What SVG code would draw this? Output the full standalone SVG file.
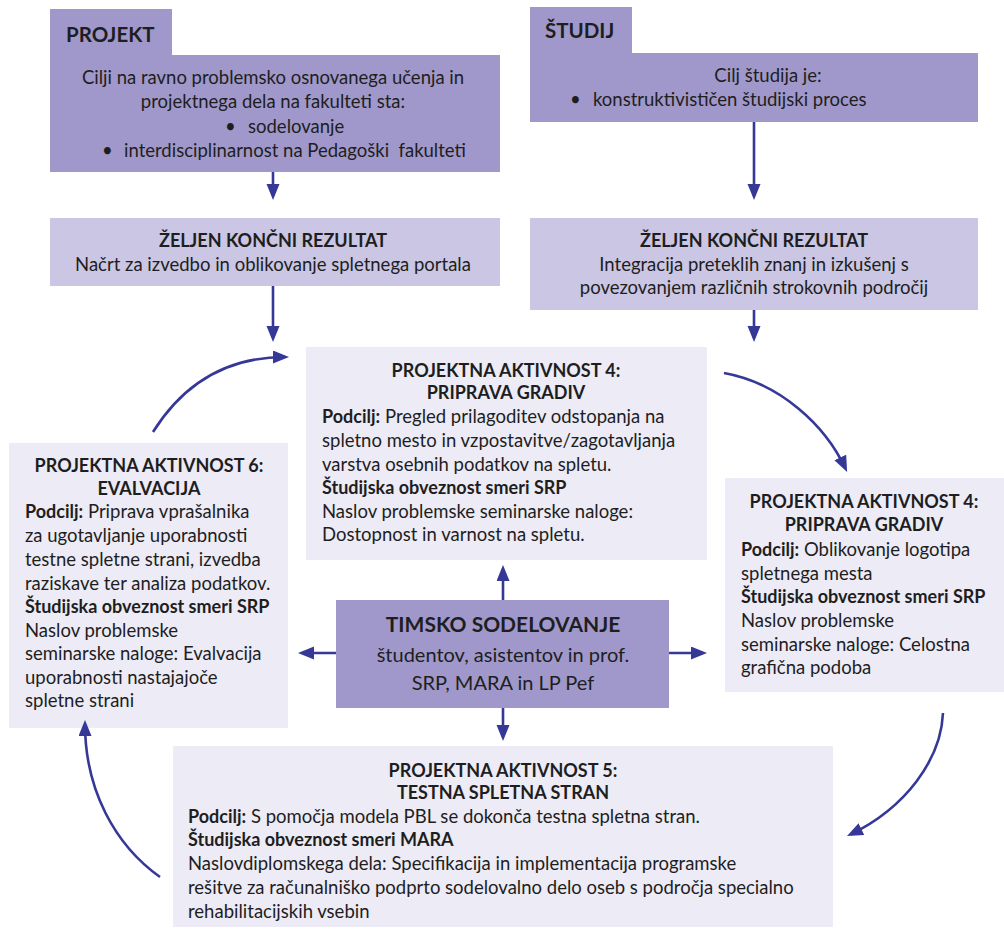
<svg xmlns="http://www.w3.org/2000/svg" width="1004" height="929" viewBox="0 0 1004 929">
<defs>
<style>
text{font-family:Lato,"Open Sans","Liberation Sans",sans-serif;fill:#1e1e1e;font-size:18.5px;white-space:pre}
.c{text-anchor:middle}
.b{font-weight:bold;font-size:18px}
.h{font-size:20.5px;font-weight:bold}
.t{font-size:21px;font-weight:bold}
.big{font-size:20px}
.dark{fill:#a098ca}
.mid{fill:#cac6e3}
.light{fill:#ecebf6}
.ln{fill:none;stroke:#363897;stroke-width:2.6;marker-end:url(#ah)}
</style>
<marker id="ah" markerUnits="userSpaceOnUse" markerWidth="18" markerHeight="14" refX="12" refY="6.5" orient="auto">
<path d="M0,0 L16,6.5 L0,13 z" fill="#363897"/>
</marker>
</defs>
<rect width="1004" height="929" fill="#ffffff"/>

<g id="projekt">
<rect class="dark" x="50" y="9" width="122" height="47"/>
<rect class="dark" x="50" y="55" width="450" height="117"/>
<text class="h" x="66" y="42">PROJEKT</text>
<text class="c" x="273" y="84">Cilji na ravno problemsko osnovanega učenja in</text>
<text class="c" x="273" y="108">projektnega dela na fakulteti sta:</text>
<text x="225" y="133">•</text><text x="248" y="133">sodelovanje</text>
<text x="102" y="157">•</text><text x="124" y="157">interdisciplinarnost na Pedagoški  fakulteti</text>
</g>

<g id="studij">
<rect class="dark" x="530" y="7" width="102" height="47"/>
<rect class="dark" x="530" y="53" width="448" height="69"/>
<text class="h" x="545" y="38">ŠTUDIJ</text>
<text class="c" x="768" y="82">Cilj študija je:</text>
<text x="570" y="106">•</text><text x="593" y="106">konstruktivističen študijski proces</text>
</g>

<g id="rezultat-levo">
<rect class="mid" x="50" y="218" width="450" height="68"/>
<text class="c b" x="273" y="247">ŽELJEN KONČNI REZULTAT</text>
<text class="c" x="273" y="271">Načrt za izvedbo in oblikovanje spletnega portala</text>
</g>

<g id="rezultat-desno">
<rect class="mid" x="530" y="218" width="448" height="92"/>
<text class="c b" x="754" y="247">ŽELJEN KONČNI REZULTAT</text>
<text class="c" x="754" y="271">Integracija preteklih znanj in izkušenj s</text>
<text class="c" x="754" y="294">povezovanjem različnih strokovnih področij</text>
</g>

<g id="aktivnost4-sredina">
<rect class="light" x="306" y="347" width="401" height="213"/>
<text class="c b" x="506" y="377">PROJEKTNA AKTIVNOST 4:</text>
<text class="c b" x="506" y="399">PRIPRAVA GRADIV</text>
<text x="322" y="423"><tspan class="b">Podcilj:</tspan> Pregled prilagoditev odstopanja na</text>
<text x="322" y="447">spletno mesto in vzpostavitve/zagotavljanja</text>
<text x="322" y="471">varstva osebnih podatkov na spletu.</text>
<text class="b" x="322" y="494">Študijska obveznost smeri SRP</text>
<text x="322" y="518">Naslov problemske seminarske naloge:</text>
<text x="322" y="541">Dostopnost in varnost na spletu.</text>
</g>

<g id="aktivnost6">
<rect class="light" x="9" y="443" width="279" height="285"/>
<text class="c b" x="149" y="472">PROJEKTNA AKTIVNOST 6:</text>
<text class="c b" x="149" y="495">EVALVACIJA</text>
<text x="25" y="518"><tspan class="b">Podcilj:</tspan> Priprava vprašalnika</text>
<text x="25" y="542">za ugotavljanje uporabnosti</text>
<text x="25" y="566">testne spletne strani, izvedba</text>
<text x="25" y="590">raziskave ter analiza podatkov.</text>
<text class="b" x="25" y="613">Študijska obveznost smeri SRP</text>
<text x="25" y="637">Naslov problemske</text>
<text x="25" y="660">seminarske naloge: Evalvacija</text>
<text x="25" y="684">uporabnosti nastajajoče</text>
<text x="25" y="707">spletne strani</text>
</g>

<g id="aktivnost4-desno">
<rect class="light" x="725" y="478" width="279" height="214"/>
<text class="c b" x="864" y="508">PROJEKTNA AKTIVNOST 4:</text>
<text class="c b" x="864" y="531">PRIPRAVA GRADIV</text>
<text x="741" y="556"><tspan class="b">Podcilj:</tspan> Oblikovanje logotipa</text>
<text x="741" y="580">spletnega mesta</text>
<text class="b" x="741" y="603">Študijska obveznost smeri SRP</text>
<text x="741" y="627">Naslov problemske</text>
<text x="741" y="651">seminarske naloge: Celostna</text>
<text x="741" y="674">grafična podoba</text>
</g>

<g id="timsko">
<rect class="dark" x="336" y="600" width="333" height="108"/>
<text class="c t" x="503" y="632">TIMSKO SODELOVANJE</text>
<text class="c big" x="503" y="662">študentov, asistentov in prof.</text>
<text class="c big" x="503" y="690">SRP, MARA in LP Pef</text>
</g>

<g id="aktivnost5">
<rect class="light" x="173" y="746" width="660" height="181"/>
<text class="c b" x="503" y="777">PROJEKTNA AKTIVNOST 5:</text>
<text class="c b" x="503" y="799">TESTNA SPLETNA STRAN</text>
<text x="188" y="823"><tspan class="b">Podcilj:</tspan> S pomočja modela PBL se dokonča testna spletna stran.</text>
<text class="b" x="188" y="846">Študijska obveznost smeri MARA</text>
<text x="188" y="870">Naslovdiplomskega dela: Specifikacija in implementacija programske</text>
<text x="188" y="894">rešitve za računalniško podprto sodelovalno delo oseb s področja specialno</text>
<text x="188" y="918">rehabilitacijskih vsebin</text>
</g>

<g id="connectors">
<line class="ln" x1="273" y1="172" x2="273" y2="196"/>
<line class="ln" x1="754" y1="122" x2="754" y2="196"/>
<line class="ln" x1="273" y1="286" x2="273" y2="338"/>
<line class="ln" x1="754" y1="310" x2="754" y2="338"/>
<line class="ln" x1="503" y1="600" x2="503" y2="569"/>
<line class="ln" x1="503" y1="708" x2="503" y2="737"/>
<line class="ln" x1="336" y1="653" x2="302" y2="653"/>
<line class="ln" x1="669" y1="653" x2="703" y2="653"/>
<path class="ln" d="M153,432 Q200,357 285,357"/>
<path class="ln" d="M724,373 C780,383 825,425 845.4,468.3"/>
<path class="ln" d="M943,713 C941,760 905,808 850.6,834.3"/>
<path class="ln" d="M160,877 C115,845 85,790 85,724"/>
</g>
</svg>
